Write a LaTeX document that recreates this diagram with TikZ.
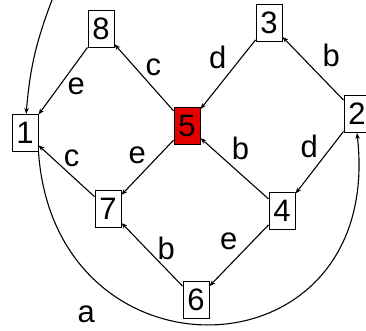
\documentclass[tikz,border=0pt]{standalone}
\usepackage{fontspec}
\setmainfont{Liberation Sans}
\usetikzlibrary{arrows.meta}
\begin{document}
\begin{tikzpicture}[x=1pt,y=-1pt,
    state/.style={draw,line width=1pt,inner sep=0pt,minimum width=26pt,
        minimum height=37pt,font=\fontsize{31}{31}\selectfont},
    hot/.style={state,fill=red!90!black},
    trans/.style={line width=1.1pt,-{Stealth[length=6pt,width=4.5pt]}},
    lbl/.style={font=\fontsize{31}{31}\selectfont,inner sep=1pt}]
    \useasboundingbox (0,0) rectangle (366,331);
            % states
            \node[state] (s1) at (25,133) {1};
            \node[state] (s2) at (357,114) {2};
            \node[state] (s3) at (269,23) {3};
            \node[state] (s4) at (282,211) {4};
            \node[hot]   (s5) at (187,126) {5};
            \node[state] (s6) at (196,300) {6};
            \node[state] (s7) at (108,209) {7};
            \node[state] (s8) at (101,29) {8};
            \coordinate (init) at (52,0);
            % transitions
            \draw[trans] (init) to[bend right=8] (s1);
            \draw[trans] (s8) -- (s1) node[lbl,midway,right=3pt,yshift=-5pt] {e};
            \draw[trans] (s5) -- (s8) node[lbl,midway,above right] {c};
            \draw[trans] (s3) -- (s5) node[lbl,midway,above left,yshift=4pt] {d};
            \draw[trans] (s2) -- (s3) node[lbl,midway,above right,xshift=8pt] {b};
            \draw[trans] (s4) -- (s5) node[lbl,midway,above=7pt,xshift=6pt] {b};
            \draw[trans] (s2) -- (s4) node[lbl,midway,above left,yshift=3pt] {d};
            \draw[trans] (s7) -- (s1) node[lbl,midway,above=3pt,xshift=5pt] {c};
            \draw[trans] (s5) -- (s7) node[lbl,midway,above left,yshift=2pt] {e};
            \draw[trans] (s6) -- (s7) node[lbl,midway,right=4pt,yshift=6pt] {b};
            \draw[trans] (s4) -- (s6) node[lbl,midway,above left,yshift=4pt] {e};
            \draw[trans] (s1.south east) .. controls (55,390) and (385,380)
                .. (s2.south) node[lbl,pos=0.28,below left=4pt,xshift=-11pt,yshift=-6pt] {a};
\end{tikzpicture}
\end{document}
